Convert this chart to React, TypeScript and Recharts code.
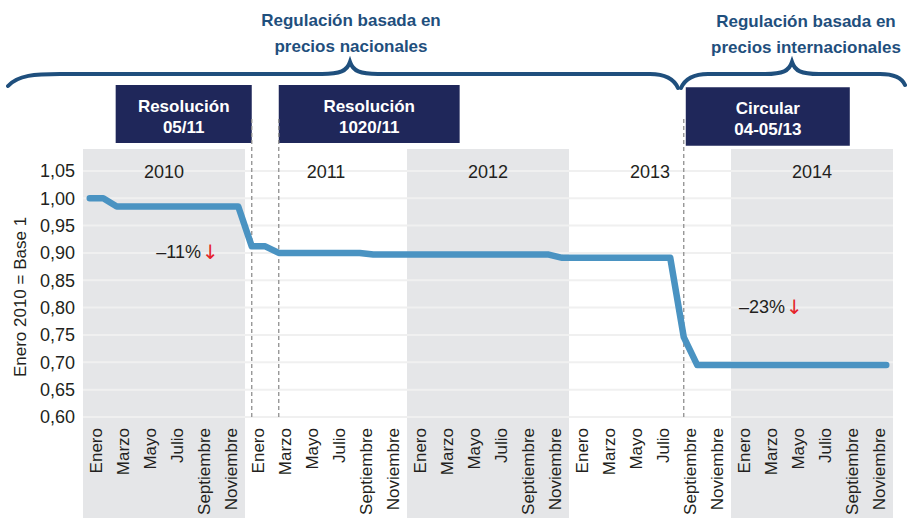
import React from "react";
import {
  LineChart,
  Line,
  XAxis,
  YAxis,
  ReferenceArea,
  ReferenceLine,
} from "recharts";

const months = [
  "Enero", "Febrero", "Marzo", "Abril", "Mayo", "Junio",
  "Julio", "Agosto", "Septiembre", "Octubre", "Noviembre", "Diciembre",
];
const years = [2010, 2011, 2012, 2013, 2014];
const shadedYears = [2010, 2012, 2014];

// índice mensual, enero 2010 = 1
const values2010 = [1.0, 1.0, 0.985, 0.985, 0.985, 0.985, 0.985, 0.985, 0.985, 0.985, 0.985, 0.985];
const values2011 = [0.912, 0.912, 0.9, 0.9, 0.9, 0.9, 0.9, 0.9, 0.9, 0.897, 0.897, 0.897];
const values2012 = [0.897, 0.897, 0.897, 0.897, 0.897, 0.897, 0.897, 0.897, 0.897, 0.897, 0.897, 0.891];
const values2013 = [0.891, 0.891, 0.891, 0.891, 0.891, 0.891, 0.891, 0.891, 0.746, 0.695, 0.695, 0.695];
const values2014 = [0.695, 0.695, 0.695, 0.695, 0.695, 0.695, 0.695, 0.695, 0.695, 0.695, 0.695, 0.695];

const yTicks = [0.6, 0.65, 0.7, 0.75, 0.8, 0.85, 0.9, 0.95, 1.0, 1.05];

// normas: mes de entrada en vigor (índice desde enero 2010)
const events = [
  { title: "Resolución", code: "05/11", month: 12 },
  { title: "Resolución", code: "1020/11", month: 14 },
  { title: "Circular", code: "04-05/13", month: 44 },
];

const series = [values2010, values2011, values2012, values2013, values2014];
const data = series.flatMap((vals, yi) =>
  vals.map((v, mi) => ({ idx: yi * 12 + mi, year: years[yi], month: months[mi], value: v }))
);
const xTicks = data.filter((d) => d.idx % 2 === 0).map((d) => d.idx);

// caja de cada norma en unidades de eje
const boxSpan = [
  { x1: 1.92, x2: 12, y1: 1.101, y2: 1.207 },
  { x1: 14, x2: 27.4, y1: 1.101, y2: 1.207 },
  { x1: 44.15, x2: 56.3, y1: 1.096, y2: 1.203 },
];

const NAVY = "#1f275a";
const BRACE = "#1f4f7d";
const TEXT = "#231f20";
const RED = "#e5242b";

const fmt = (v: number) => v.toFixed(2).replace(".", ",");

function boxLabel(title: string, code: string) {
  return (props: any) => {
    const vb = props.viewBox || {};
    const cx = vb.x + vb.width / 2;
    return (
      <text textAnchor="middle" fill="#ffffff" fontWeight="bold" fontSize={17}>
        <tspan x={cx} y={vb.y + 27}>{title}</tspan>
        <tspan x={cx} y={vb.y + 48}>{code}</tspan>
      </text>
    );
  };
}

function yLabel(props: any) {
  const vb = props.viewBox || {};
  const x = vb.x + 12;
  const y = vb.y + vb.height / 2 + 14;
  return (
    <text
      x={x}
      y={y}
      transform={`rotate(-90, ${x}, ${y})`}
      textAnchor="middle"
      dominantBaseline="central"
      fontSize={17}
      fill={TEXT}
    >
      Enero 2010 = Base 1
    </text>
  );
}

export default function App() {
  return (
    <div
      style={{
        position: "absolute",
        left: 0,
        top: 0,
        width: 907,
        height: 519,
        background: "#ffffff",
        fontFamily: '"Liberation Sans", Arial, sans-serif',
      }}
    >
      <LineChart
        width={907}
        height={519}
        data={data}
        margin={{ top: 149, right: 14, bottom: 7, left: 8 }}
      >
        {years.map((y, i) => (
          <ReferenceArea
            key={`yr-${y}`}
            x1={i * 12 - 0.5}
            x2={i * 12 + 11.5}
            y1={0.4153}
            y2={1.09}
            fill={shadedYears.includes(y) ? "#e5e6e8" : "#ffffff"}
            fillOpacity={shadedYears.includes(y) ? 1 : 0}
            stroke="none"
            ifOverflow="visible"
            label={{
              value: String(y),
              position: "insideTop",
              offset: 16,
              fontSize: 18,
              fill: TEXT,
            }}
          />
        ))}
        {yTicks.map((t) => (
          <ReferenceLine key={`grid-${t}`} y={t} stroke="#f0f0f0" strokeWidth={2} />
        ))}
        {events.map((e) => (
          <ReferenceLine
            key={`ev-${e.month}`}
            segment={[
              { x: e.month, y: 0.6 },
              { x: e.month, y: 1.15 },
            ]}
            stroke="#8f8f8f"
            strokeWidth={1.3}
            strokeDasharray="4 3"
            ifOverflow="visible"
          />
        ))}
        {events.map((e, i) => (
          <ReferenceArea
            key={`box-${e.month}`}
            x1={boxSpan[i].x1}
            x2={boxSpan[i].x2}
            y1={boxSpan[i].y1}
            y2={boxSpan[i].y2}
            fill={NAVY}
            fillOpacity={1}
            stroke="none"
            ifOverflow="visible"
            label={boxLabel(e.title, e.code)}
          />
        ))}
        <XAxis
          type="number"
          dataKey="idx"
          domain={[-0.5, 59.5]}
          ticks={xTicks}
          interval={0}
          tickFormatter={(i: number) => months[i % 12]}
          angle={-90}
          textAnchor="end"
          height={95}
          axisLine={false}
          tickLine={false}
          tickMargin={5}
          tick={{ fontSize: 17, fill: TEXT, verticalAnchor: "middle" } as any}
        />
        <YAxis
          type="number"
          domain={[0.6, 1.09]}
          ticks={yTicks}
          width={75}
          axisLine={false}
          tickLine={false}
          tickFormatter={fmt}
          tick={{ fontSize: 18, fill: TEXT }}
          label={yLabel}
        />
        <Line
          type="linear"
          dataKey="value"
          stroke="#4a93c2"
          strokeWidth={6.5}
          strokeLinecap="round"
          strokeLinejoin="round"
          dot={false}
          isAnimationActive={false}
        />
      </LineChart>
      <svg
        width={907}
        height={519}
        style={{ position: "absolute", left: 0, top: 0, pointerEvents: "none" }}
      >
        <path
          d="M 8 86 C 18 75, 35 74, 60 74 L 322 74 C 340 74, 347 71, 350 62 C 353 71, 360 74, 378 74 L 650 74 C 666 74, 674 79, 678 88"
          fill="none"
          stroke={BRACE}
          strokeWidth={4}
          strokeLinecap="round"
        />
        <path
          d="M 681 88 C 685 79, 693 74, 708 74 L 765 74 C 783 74, 789 71, 792 62 C 795 71, 801 74, 819 74 L 880 74 C 895 74, 902 78, 905 85"
          fill="none"
          stroke={BRACE}
          strokeWidth={4}
          strokeLinecap="round"
        />
        <text textAnchor="middle" fill={BRACE} fontWeight="bold" fontSize={17}>
          <tspan x={351} y={26}>Regulación basada en</tspan>
          <tspan x={351} y={52}>precios nacionales</tspan>
        </text>
        <text textAnchor="middle" fill={BRACE} fontWeight="bold" fontSize={17}>
          <tspan x={806} y={27}>Regulación basada en</tspan>
          <tspan x={806} y={53}>precios internacionales</tspan>
        </text>
        <text x={201} y={258} textAnchor="end" fontSize={18} fill={TEXT}>
          –11%
        </text>
        <text
          x={202}
          y={259}
          fontSize={20}
          fill={RED}
          style={{ fontFamily: '"DejaVu Sans", sans-serif' }}
        >
          ↓
        </text>
        <text x={785} y={313} textAnchor="end" fontSize={18} fill={TEXT}>
          –23%
        </text>
        <text
          x={786}
          y={314}
          fontSize={20}
          fill={RED}
          style={{ fontFamily: '"DejaVu Sans", sans-serif' }}
        >
          ↓
        </text>
      </svg>
    </div>
  );
}
